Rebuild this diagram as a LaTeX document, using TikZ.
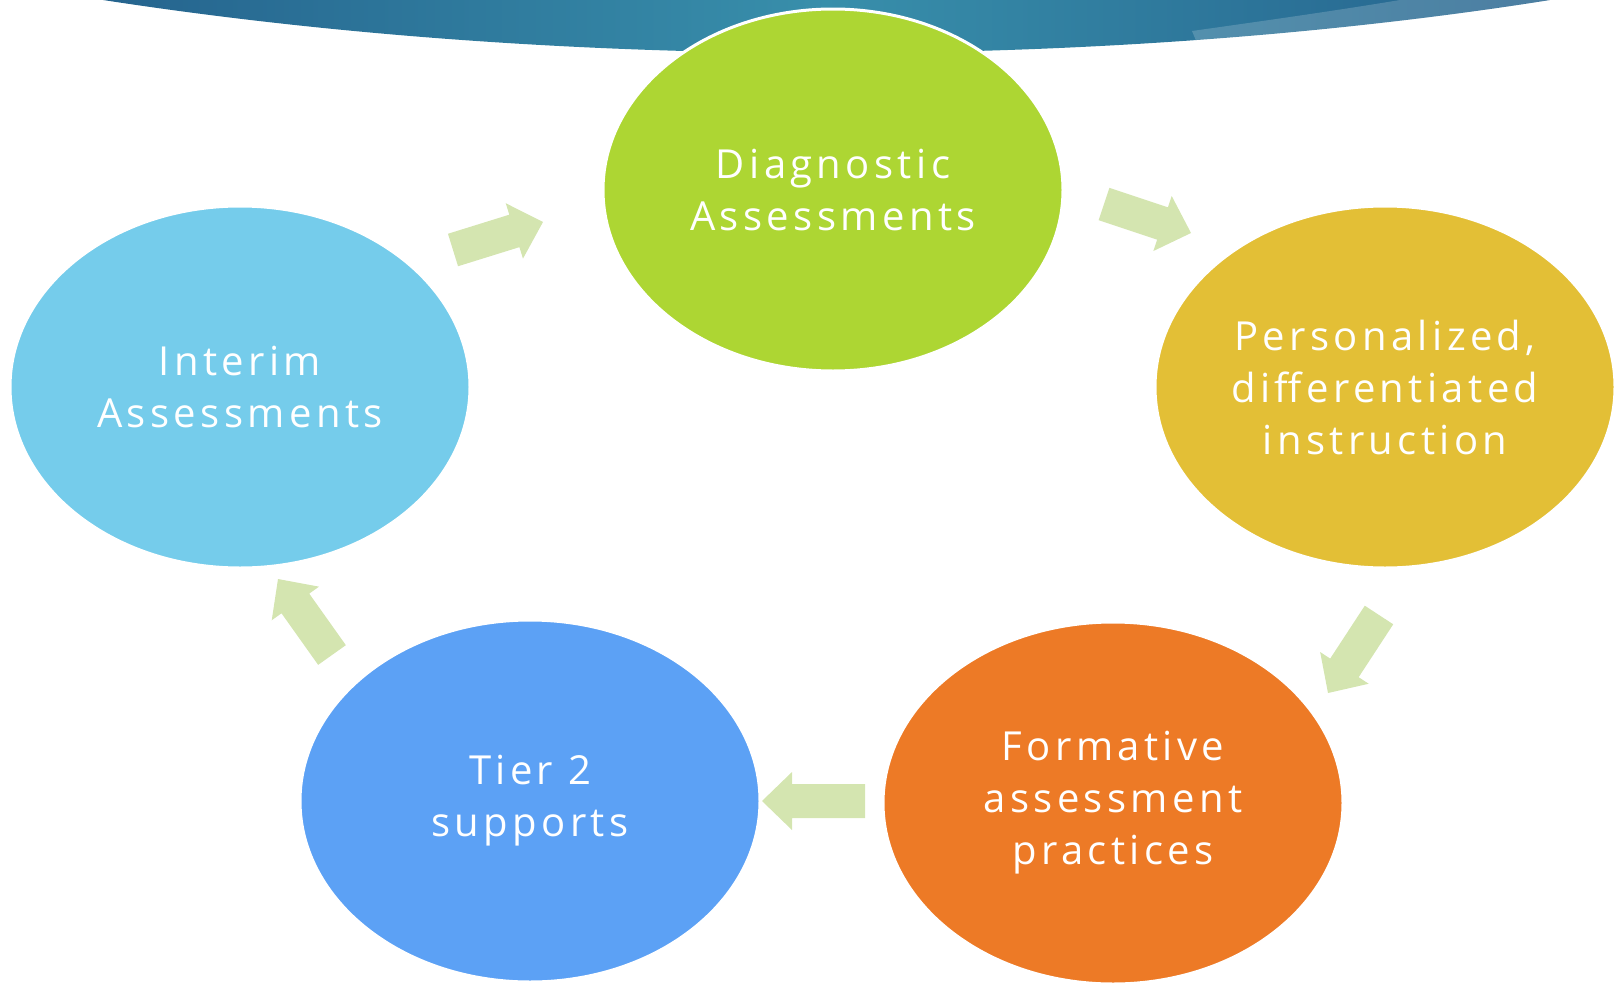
\documentclass[tikz,border=0pt]{standalone}
\usepackage{fontspec}
\newfontfamily\bubblefont[LetterSpace=11]{Open Sans}
\usepackage{xcolor}
\definecolor{bannerdark}{rgb}{0.10,0.29,0.49}
\definecolor{bannermid}{rgb}{0.15,0.42,0.60}
\definecolor{bannerteal}{rgb}{0.22,0.56,0.67}
\definecolor{limegreen}{rgb}{0.68,0.84,0.20}
\definecolor{mustard}{rgb}{0.89,0.75,0.21}
\definecolor{skyblue}{rgb}{0.46,0.80,0.92}
\definecolor{cornblue}{rgb}{0.36,0.63,0.96}
\definecolor{pumpkin}{rgb}{0.93,0.48,0.15}
\definecolor{palegreen}{rgb}{0.83,0.90,0.69}
\usetikzlibrary{calc, shapes.geometric}
\pgfdeclarehorizontalshading{bannershade}{100bp}{
    color(0bp)=(bannermid); color(10bp)=(bannerdark);
    color(50bp)=(bannerteal); color(88bp)=(bannerdark);
    color(100bp)=(bannerdark)}
\tikzset{
    bubble/.style={ellipse, draw=white, line width=3pt, inner sep=0pt,
        minimum width=460pt, minimum height=362pt, text=white, align=center,
        font=\bubblefont\fontsize{40}{52}\selectfont},
    flowarrow/.style={fill=palegreen}
}
% block arrow from #1 (tail) to #2 (tip)
\newcommand{\blockarrow}[2]{%
    \coordinate (hb) at ($(#2)!30pt!(#1)$);
    \fill[flowarrow]
        ($(#1)!17pt!90:(#2)$)--
        ($(hb)!17pt!90:(#2)$)--
        ($(hb)!29pt!90:(#2)$)--
        (#2)--
        ($(hb)!29pt!-90:(#2)$)--
        ($(hb)!17pt!-90:(#2)$)--
        ($(#1)!17pt!-90:(#2)$)--cycle;
}

\begin{document}
\begin{tikzpicture}
    [x=1pt, y=-1pt]
    \useasboundingbox (0,0) rectangle (1615,983);
    % banner
    \shade[shading=bannershade]
        (103,0) .. controls (350,38) and (600,53) ..
        (830,53) .. controls (1060,53) and (1310,38) ..
        (1550,0)--cycle;
    \fill[white, opacity=0.18]
        (1192,31) .. controls (1270,20) and (1340,10) ..
        (1400,0)--
        (1550,0) .. controls (1440,17) and (1320,32) ..
        (1197,43)--cycle;
    % bubbles
    \node[bubble, fill=limegreen] (diag) at (833,190) {Diagnostic\\Assessments};
    \node[bubble, fill=mustard] (pers) at (1385,387) {Personalized,\\differentiated\\instruction};
    \node[bubble, fill=pumpkin] (form) at (1113,803) {Formative\\assessment\\practices};
    \node[bubble, fill=cornblue] (tier) at (530,801) {Tier 2\\supports};
    \node[bubble, fill=skyblue] (inter) at (240,387) {Interim\\Assessments};
    % arrows
    \coordinate (a1s) at (453,250);  \coordinate (a1e) at (543,222);
    \coordinate (a2s) at (1104,204); \coordinate (a2e) at (1191,233);
    \coordinate (a3s) at (1379,615); \coordinate (a3e) at (1328,693);
    \coordinate (a4s) at (865,801);  \coordinate (a4e) at (762,801);
    \coordinate (a5s) at (332,655);  \coordinate (a5e) at (278,579);
    \blockarrow{a1s}{a1e}
    \blockarrow{a2s}{a2e}
    \blockarrow{a3s}{a3e}
    \blockarrow{a4s}{a4e}
    \blockarrow{a5s}{a5e}
\end{tikzpicture}
\end{document}
